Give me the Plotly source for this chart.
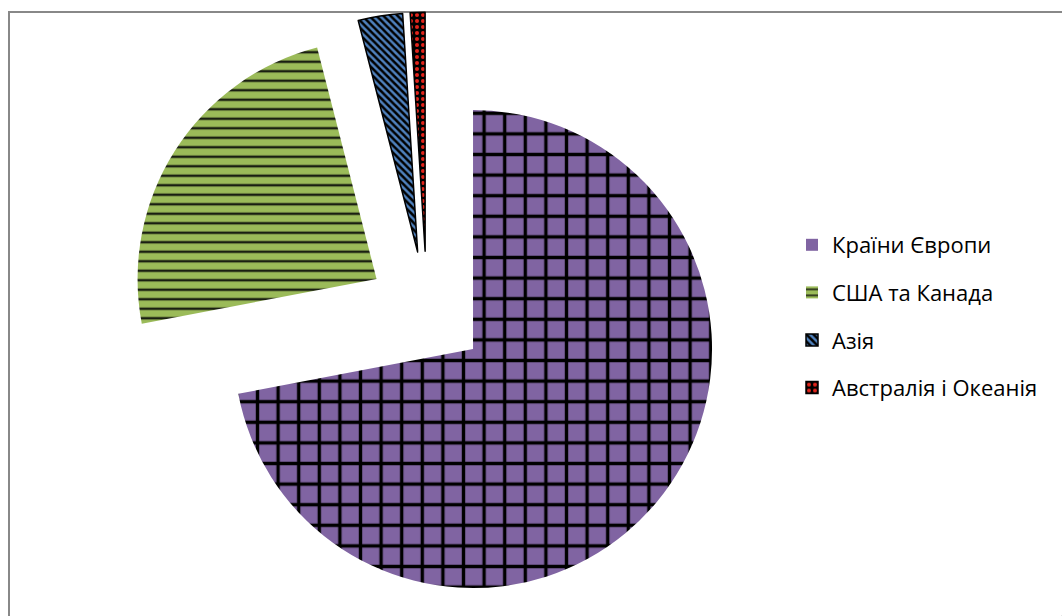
import plotly.graph_objects as go

# ---- data ----
regions = ["Країни Європи", "США та Канада", "Азія", "Австралія і Океанія"]
shares = [72, 24, 3, 1]

# ---- styles ----
fill_colors = ["#8064A2", "#9BBB59", "#4F81BD", "#000000"]
pattern_shapes = ["+", "-", "\\", "."]
legend_shapes = ["", "-", "\\", "."]
pattern_fg = ["#000000", "#1A1F12", "#000000", "#E3241B"]
pattern_size = [20.6, 9.5, 5, 6]
pattern_solid = [0.3, 0.26, 0.5, 0.35]
edge_widths = [0, 0, 1.5, 1.5]

W, H = 1062, 616
cx, cy, r, pull = 427, 311, 239, 0.25
half = r * (1 + pull)
dom_x = [(cx - half) / W, (cx + half) / W]
dom_y = [(H - (cy + half)) / H, (H - (cy - half)) / H]

fig = go.Figure()

fig.add_trace(go.Pie(
    labels=regions,
    values=shares,
    sort=False,
    direction="clockwise",
    rotation=0,
    pull=[pull] * len(shares),
    textinfo="none",
    showlegend=False,
    domain=dict(x=dom_x, y=dom_y),
    marker=dict(
        colors=fill_colors,
        line=dict(color="#000000", width=edge_widths),
        pattern=dict(
            shape=pattern_shapes,
            fgcolor=pattern_fg,
            bgcolor=fill_colors,
            size=pattern_size,
            solidity=pattern_solid,
        ),
    ),
))

# legend entries (one tiny pie per category so the rows can be spaced)
for i, lab in enumerate(regions):
    fig.add_trace(go.Pie(
        labels=[lab],
        values=[shares[i]],
        sort=False,
        textinfo="none",
        hoverinfo="skip",
        legendgroup="g%d" % i,
        showlegend=True,
        domain=dict(x=[0.9998, 0.99995], y=[0.00005, 0.0002]),
        marker=dict(
            colors=[fill_colors[i]],
            line=dict(color="#000000", width=[edge_widths[i]]),
            pattern=dict(
                shape=[legend_shapes[i]],
                fgcolor=[pattern_fg[i]],
                bgcolor=[fill_colors[i]],
                size=[min(pattern_size[i], 6)],
                solidity=[pattern_solid[i]],
            ),
        ),
    ))

fig.update_layout(
    width=W,
    height=H,
    margin=dict(l=0, r=0, t=0, b=0),
    paper_bgcolor="#FFFFFF",
    plot_bgcolor="#FFFFFF",
    font=dict(family="Open Sans", size=22, color="#000000"),
    legend=dict(
        x=792 / W,
        xanchor="left",
        y=1 - 224 / H,
        yanchor="top",
        traceorder="grouped",
        tracegroupgap=16,
        bgcolor="rgba(0,0,0,0)",
        font=dict(family="Open Sans", size=22, color="#000000"),
    ),
    shapes=[
        dict(type="rect", xref="paper", yref="paper",
             x0=9 / W, x1=1.05, y0=-0.05, y1=1 - 12 / H,
             line=dict(color="#888888", width=2), fillcolor="rgba(0,0,0,0)",
             layer="below"),
    ],
)

fig.write_html("out.html")
